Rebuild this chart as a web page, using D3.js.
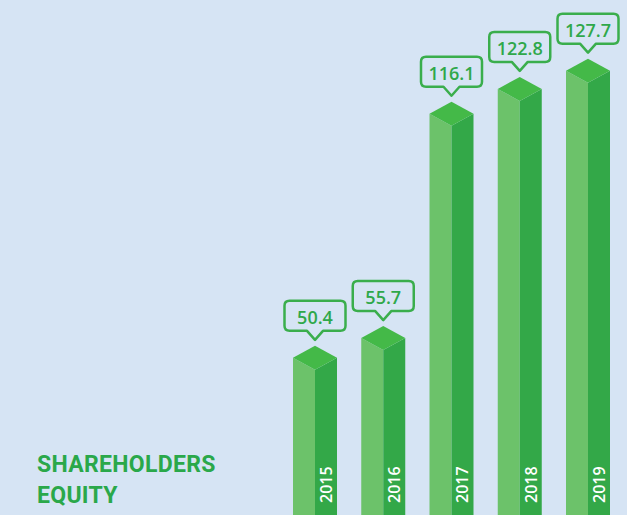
<!DOCTYPE html>
<html>
<head>
<meta charset="utf-8">
<script src="https://cdn.jsdelivr.net/npm/d3@7"></script>
<style>
  html, body { margin: 0; padding: 0; background: #d6e4f4; }
  svg { display: block; }
</style>
</head>
<body>
<svg id="chart" width="627" height="515"></svg>
<script>
let years = ["2015", "2016", "2017", "2018", "2019"];
let values = [50.4, 55.7, 116.1, 122.8, 127.7];
let titleLines = ["SHAREHOLDERS", "EQUITY"];

let width = 627, height = 515;
let svg = d3.select("#chart");

svg.append("rect").attr("width", width).attr("height", height).attr("fill", "#d6e4f4");

let xScale = d3.scalePoint().domain(years).range([315, 588]);
let yScale = d3.scaleLinear().domain([0, 140]).range([545, 25]);   // baseline sits below the frame

let half = 22, depth = 12;
let data = years.map((y, i) => ({year: y, value: values[i]}));

let bars = svg.selectAll(".bar").data(data).enter().append("g").attr("class", "bar");

// left face
bars.append("path").attr("fill", "#6cc26a")
    .attr("d", d => {
        let x = xScale(d.year), y = yScale(d.value);
        return "M" + (x - half) + "," + y + "L" + x + "," + (y + depth) + "L" + x + "," + height + "L" + (x - half) + "," + height + "Z";
    });
// right face
bars.append("path").attr("fill", "#33a848")
    .attr("d", d => {
        let x = xScale(d.year), y = yScale(d.value);
        return "M" + x + "," + (y + depth) + "L" + (x + half) + "," + y + "L" + (x + half) + "," + height + "L" + x + "," + height + "Z";
    });
// top
bars.append("path").attr("fill", "#44b948")
    .attr("d", d => {
        let x = xScale(d.year), y = yScale(d.value);
        return "M" + x + "," + (y - depth) + "L" + (x + half) + "," + y + "L" + x + "," + (y + depth) + "L" + (x - half) + "," + y + "Z";
    });

// year labels, vertical, on the right face
bars.append("text")
    .attr("transform", d => "translate(" + (xScale(d.year) + 11) + ",503) rotate(-90)")
    .attr("dy", "0.36em")
    .attr("fill", "white")
    .style("font-family", "'Open Sans', sans-serif")
    .style("font-weight", 600)
    .style("font-size", "16px")
    .text(d => d.year);

// callouts
let bw = 61, bh = 30, r = 5, pw = 8;
bars.append("path")
    .attr("fill", "#d6e4f4").attr("stroke", "#3aae4c").attr("stroke-width", 2.5)
    .attr("stroke-linejoin", "round")
    .attr("d", d => {
        let x = xScale(d.year), peak = yScale(d.value) - depth;
        let tip = peak - 6, b = peak - 15, t = b - bh, l = x - bw / 2, rr = x + bw / 2;
        return "M" + (l + r) + "," + t + "L" + (rr - r) + "," + t + "Q" + rr + "," + t + " " + rr + "," + (t + r) +
            "L" + rr + "," + (b - r) + "Q" + rr + "," + b + " " + (rr - r) + "," + b +
            "L" + (x + pw) + "," + b + "L" + x + "," + tip + "L" + (x - pw) + "," + b +
            "L" + (l + r) + "," + b + "Q" + l + "," + b + " " + l + "," + (b - r) +
            "L" + l + "," + (t + r) + "Q" + l + "," + t + " " + (l + r) + "," + t + "Z";
    });
bars.append("text")
    .attr("x", d => xScale(d.year))
    .attr("y", d => yScale(d.value) - depth - 15 - bh + 23)
    .attr("text-anchor", "middle")
    .attr("fill", "#2fa84a")
    .style("font-family", "'Open Sans', sans-serif")
    .style("font-weight", 600)
    .style("font-size", "18px")
    .text(d => d.value.toFixed(1));

// title
svg.append("g").selectAll("text").data(titleLines).enter().append("text")
    .attr("x", 37).attr("y", (d, i) => 472 + i * 31)
    .attr("fill", "#2aa84a")
    .style("font-family", "Roboto, sans-serif")
    .style("font-weight", 700)
    .style("font-size", "23px")
    .style("letter-spacing", "0.3px")
    .text(d => d);
</script>
</body>
</html>
